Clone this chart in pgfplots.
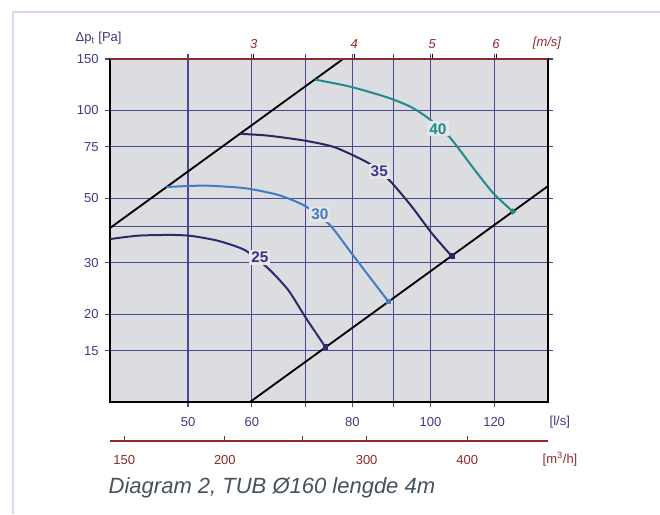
\documentclass[border=0pt]{standalone}
\usepackage{pgfplots}
\pgfplotsset{compat=1.18}
\usepackage{fontspec}
\setmainfont{Liberation Sans}
\definecolor{plotbg}{HTML}{DCDDE0}
\definecolor{gridc}{HTML}{4B4690}
\definecolor{navy}{HTML}{3D3A82}
\definecolor{redc}{HTML}{8E2A2A}
\definecolor{framec}{HTML}{D4DAEE}
\definecolor{captc}{HTML}{42525F}
\definecolor{c25}{HTML}{2E2A6E}
\definecolor{l25}{HTML}{3E2F80}
\definecolor{c30}{HTML}{3F7CC4}
\definecolor{c35}{HTML}{2B2560}
\definecolor{l35}{HTML}{3E3A85}
\definecolor{c40}{HTML}{1E8C8C}
\begin{document}
\begin{tikzpicture}[x=0.75pt,y=-0.75pt]
\path[use as bounding box] (0,0) rectangle (660,514);
\draw[framec, line width=1.1pt] (13,514) -- (13,12) -- (660,12);
% main axis
\begin{axis}[
  at={(82.5pt,-301.5pt)}, anchor=south west,
  scale only axis, width=328.5pt, height=257.25pt,
  xmode=log, ymode=log,
  xmin=40, xmax=140, ymin=10, ymax=150,
  axis background/.style={fill=plotbg},
  grid=major, major grid style={gridc, line width=0.8pt},
  xtick={50,60,70,80,90,100,120},
  xticklabels={50,60,,80,,100,120},
  ytick={15,20,30,50,75,100,150},
  yticklabels={15,20,30,50,75,100,150},
  extra y ticks={40}, extra y tick labels={},
  extra y tick style={major tick length=0pt, grid=major},
  minor xtick={}, minor ytick={},
  tick align=outside, major tick length=4pt,
  axis line style={black, line width=1.1pt},
  tick style={gridc, line width=0.8pt},
  ticklabel style={navy, font=\fontsize{9.75}{11}\selectfont},
  /pgf/number format/assume math mode=true,
  xticklabel style={yshift=-4pt},
  yticklabel style={xshift=-1pt},
  every axis plot/.append style={line width=1.5pt},
]
\addplot[black, line width=1.4pt] coordinates {(40,39.5) (77.9,150)};
\addplot[black, line width=1.4pt] coordinates {(59.7,10) (140,55)};
\addplot[c25, smooth, tension=0.4] coordinates {(40,36.2) (43.4,37.2) (47.7,37.4) (50.5,37.1) (54.5,35.7) (58.8,33.2) (62.9,28.7) (66.6,24.2) (69.9,19.6) (74.1,15.4)};
\addplot[c30, smooth, tension=0.4] coordinates {(47.0,54.6) (52.5,55.2) (58.8,54.1) (64.7,51.3) (69.9,47.0) (75.0,40.5) (79.8,32.4) (84.6,26.2) (88.7,22.1)};
\addplot[c35, smooth, tension=0.4] coordinates {(58.0,83.1) (62.9,81.9) (69.9,78.7) (76.1,74.7) (83.8,65.9) (89.1,57.3) (94.8,46.8) (100.4,37.9) (106.3,31.6)};
\addplot[c40, smooth, tension=0.4] coordinates {(71.9,127.5) (79.5,120.6) (88.3,110.9) (94.4,103.0) (99.4,94.0) (105.8,80.6) (113.1,63.3) (119.7,52.0) (126.6,45.0)};
\addplot[c25, only marks, mark=square*, mark size=1.4pt] coordinates {(74.1,15.4)};
\addplot[c30, only marks, mark=square*, mark size=1.4pt] coordinates {(88.7,22.1)};
\addplot[c35, only marks, mark=square*, mark size=1.4pt] coordinates {(106.3,31.6)};
\addplot[c40, only marks, mark=*, mark size=1.4pt] coordinates {(126.6,45.0)};
\node[fill=plotbg!75!white, inner sep=1.5pt, text=l25, font=\fontsize{11.5}{12}\selectfont\bfseries] at (axis cs:61.4,31.3) {25};
\node[fill=plotbg!75!white, inner sep=1.5pt, text=c30, font=\fontsize{11.5}{12}\selectfont\bfseries] at (axis cs:72.9,44.0) {30};
\node[fill=plotbg!75!white, inner sep=1.5pt, text=l35, font=\fontsize{11.5}{12}\selectfont\bfseries] at (axis cs:86.4,61.6) {35};
\node[fill=plotbg!75!white, inner sep=1.5pt, text=c40, font=\fontsize{11.5}{12}\selectfont\bfseries] at (axis cs:102.2,86.4) {40};
\end{axis}
% top m/s axis
\begin{axis}[
  at={(82.5pt,-301.5pt)}, anchor=south west,
  scale only axis, width=328.5pt, height=257.25pt,
  xmode=log, xmin=40, xmax=140, ymin=0, ymax=1,
  axis x line*=top, hide y axis,
  x axis line style={redc, line width=0.9pt},
  xtick={60.32,80.42,100.53,120.64},
  xticklabels={3,4,5,6},
  minor xtick={},
  tick align=outside, major tick length=4pt,
  tick style={black, line width=0.7pt},
  xticklabel style={redc, font=\fontsize{9.75}{11}\selectfont\itshape},
]
\end{axis}
% bottom m3/h axis
\begin{axis}[
  at={(82.5pt,-330.75pt)}, anchor=south west,
  scale only axis, width=328.5pt, height=1pt,
  xmode=log, xmin=40, xmax=140, ymin=0, ymax=1,
  axis x line*=bottom, hide y axis,
  x axis line style={redc, line width=0.8pt},
  xtick={41.667,55.556,69.444,83.333,111.111},
  xticklabels={150,200,,300,400},
  minor xtick={},
  tick align=inside, major tick length=4pt,
  tick style={redc, line width=0.8pt},
  xticklabel style={redc, font=\fontsize{9.75}{11}\selectfont, yshift=-7.5pt},
]
\end{axis}
\node[text=navy, anchor=west, font=\fontsize{9.75}{11}\selectfont] at (545,422) {[l/s]};
\node[text=redc, anchor=west, font=\fontsize{9.75}{11}\selectfont] at (538,459) {[m\textsuperscript{3}/h]};
\node[text=redc, anchor=center, font=\fontsize{9.75}{11}\selectfont\itshape] at (547,43) {[m/s]};
\node[text=navy, anchor=west, font=\fontsize{9.75}{11}\selectfont] at (71,38) {\symbol{"0394}p\textsubscript{t} [Pa]};
\node[text=captc, anchor=west, font=\fontsize{16.5}{18}\selectfont\itshape] at (104,488) {Diagram 2, TUB Ø160 lengde 4m};
\end{tikzpicture}
\end{document}
